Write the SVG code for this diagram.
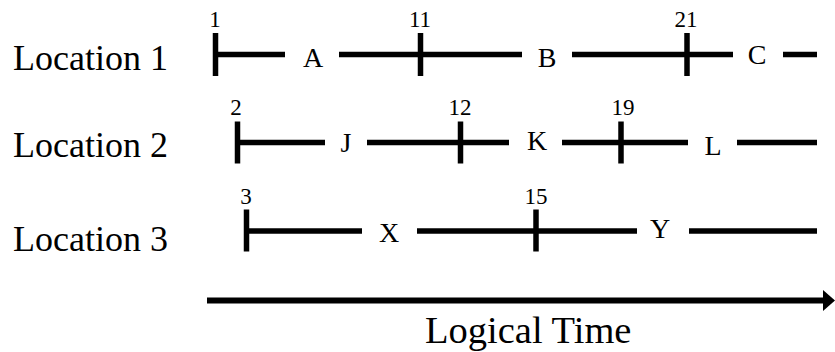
<svg xmlns="http://www.w3.org/2000/svg" width="835" height="352" viewBox="0 0 835 352">
<style>
  .lbl{font-family:"Liberation Serif","Times New Roman",serif;font-size:36px;fill:#000}
  .seg{font-family:"Liberation Serif","Times New Roman",serif;font-size:28px;fill:#000;text-anchor:middle}
  .num{font-family:"Liberation Serif","Times New Roman",serif;font-size:23px;fill:#000;text-anchor:middle}
  .ln{stroke:#000;stroke-width:5.5;fill:none}
  .tk{stroke:#000;stroke-width:5.5;fill:none}
</style>
<rect width="835" height="352" fill="#fff"/>
<g id="location1">
  <text class="lbl" x="13" y="70">Location 1</text>
  <line class="tk" x1="215.5" y1="33" x2="215.5" y2="76"/>
  <line class="ln" x1="215" y1="54.5" x2="285" y2="54.5"/>
  <text class="seg" x="313" y="67">A</text>
  <line class="ln" x1="339" y1="54.5" x2="522" y2="54.5"/>
  <line class="tk" x1="420.5" y1="33" x2="420.5" y2="76"/>
  <text class="seg" x="547" y="67">B</text>
  <line class="ln" x1="572" y1="54.5" x2="733" y2="54.5"/>
  <line class="tk" x1="687" y1="33" x2="687" y2="76"/>
  <text class="seg" x="757" y="64">C</text>
  <line class="ln" x1="783" y1="54.5" x2="817" y2="54.5"/>
  <text class="num" x="215" y="27">1</text>
  <text class="num" x="420" y="27">11</text>
  <text class="num" x="686" y="27">21</text>
</g>
<g id="location2">
  <text class="lbl" x="13" y="157">Location 2</text>
  <line class="tk" x1="237.5" y1="121.5" x2="237.5" y2="163.5"/>
  <line class="ln" x1="237" y1="142.5" x2="325" y2="142.5"/>
  <text class="seg" x="346" y="152">J</text>
  <line class="ln" x1="367" y1="142.5" x2="509" y2="142.5"/>
  <line class="tk" x1="460.5" y1="121.5" x2="460.5" y2="163.5"/>
  <text class="seg" x="537" y="150">K</text>
  <line class="ln" x1="562" y1="142.5" x2="688" y2="142.5"/>
  <line class="tk" x1="621" y1="121.5" x2="621" y2="163.5"/>
  <text class="seg" x="713" y="155">L</text>
  <line class="ln" x1="737" y1="142.5" x2="817" y2="142.5"/>
  <text class="num" x="236" y="115">2</text>
  <text class="num" x="460" y="115">12</text>
  <text class="num" x="623" y="115">19</text>
</g>
<g id="location3">
  <text class="lbl" x="13" y="251">Location 3</text>
  <line class="tk" x1="246.5" y1="209.5" x2="246.5" y2="251.5"/>
  <line class="ln" x1="246" y1="231" x2="362" y2="231"/>
  <text class="seg" x="389" y="242">X</text>
  <line class="ln" x1="417" y1="231" x2="637" y2="231"/>
  <line class="tk" x1="536" y1="209.5" x2="536" y2="251.5"/>
  <text class="seg" x="660" y="238">Y</text>
  <line class="ln" x1="689" y1="231" x2="817" y2="231"/>
  <text class="num" x="246" y="204">3</text>
  <text class="num" x="536" y="204">15</text>
</g>
<g id="connectors">
  <line x1="207" y1="300.5" x2="825" y2="300.5" stroke="#000" stroke-width="6"/>
  <polygon points="823,290 835,300.5 823,311" fill="#000"/>
</g>
<g id="axis-label">
  <text class="lbl" x="425" y="343" style="font-size:38.5px">Logical Time</text>
</g>
</svg>
